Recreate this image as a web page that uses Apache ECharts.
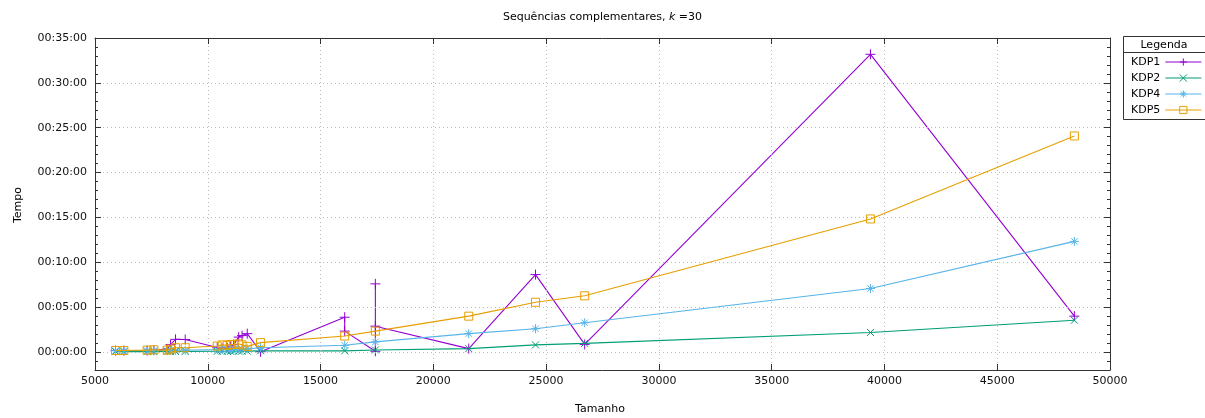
<!DOCTYPE html>
<html><head><meta charset="utf-8">
<script src="https://cdn.jsdelivr.net/npm/echarts@6/dist/echarts.min.js"></script>
<style>html,body{margin:0;padding:0;background:#fff}#c{width:1205px;height:418px}</style>
</head><body><div id="c"></div>
<script>
// Tamanho (x) shared by KDP2, KDP4, KDP5
const tamanho = [5910, 6280, 7310, 7610, 8200, 8350, 8570, 9000, 10420, 10640, 10860, 11010, 11150, 11370, 11520, 11750, 12340, 16070, 17430, 21570, 24530, 26710, 39380, 48420];
// Tempo in seconds
const kdp2 = [3, 3, 3, 3, 4, 4, 4, 4, 5, 5, 5, 5, 6, 6, 6, 6, 8, 8, 14, 23, 48, 58, 131, 213];
const kdp4 = [9, 9, 10, 10, 10, 11, 12, 12, 16, 17, 18, 18, 19, 20, 20, 21, 29, 45, 68, 123, 156, 196, 425, 740];
const kdp5 = [10, 10, 13, 15, 13, 20, 29, 29, 40, 48, 45, 51, 51, 55, 48, 38, 63, 107, 140, 240, 333, 376, 890, 1445];
// KDP1 has repeated sizes
const kdp1Tamanho = [5910, 6280, 7310, 7610, 8200, 8350, 8570, 9000, 10420, 10640, 10860, 11010, 11150, 11370, 11520, 11750, 12340, 16070, 16070, 17430, 17430, 17430, 21570, 24530, 26710, 39380, 48420];
const kdp1 = [10, 10, 10, 12, 20, 50, 85, 84, 30, 25, 30, 40, 50, 100, 110, 123, 2, 233, 140, 5, 456, 173, 23, 518, 51, 1991, 240];

const seriesNames = ['KDP1', 'KDP2', 'KDP4', 'KDP5'];
const yMajorTicks = [0, 300, 600, 900, 1200, 1500, 1800, 2100];

const FONT = 'DejaVu Sans';
const colors = ['#9400d3', '#009e73', '#56b4e9', '#e69f00'];
const pad = n => (n < 10 ? '0' : '') + n;
function fmtTime(v) {
  const s = Math.round(v);
  const sign = s < 0 ? '-' : '';
  const a = Math.abs(s);
  return sign + pad(Math.floor(a / 3600)) + ':' + pad(Math.floor((a % 3600) / 60)) + ':' + pad(a % 60);
}
const zip = (xs, ys) => xs.map((x, i) => [x, ys[i]]);

const axisLineStyle = { color: '#333', width: 1 };
const gridStyle = { color: '#b8b8b8', width: 1, type: [1, 3] };

const symbols = [
  'path://M0,5L10,5M5,0L5,10',
  'path://M0,0L10,10M10,0L0,10',
  'path://M0,5L10,5M5,0L5,10M1.5,1.5L8.5,8.5M8.5,1.5L1.5,8.5',
  'rect'
];
const symbolSizes = [10, 7, 9, 8];
const dataSets = [zip(kdp1Tamanho, kdp1), zip(tamanho, kdp2), zip(tamanho, kdp4), zip(tamanho, kdp5)];

const yBase = { type: 'value', min: -120, max: 2100, gridIndex: 0 };
const option = {
  animation: false,
  backgroundColor: '#fff',
  title: {
    text: '{a|Sequências complementares, }{i|k}{a| =30}',
    left: 'center', top: 7,
    textStyle: { fontWeight: 'normal', rich: {
      a: { fontSize: 11, fontFamily: FONT, color: '#000', fontWeight: 'normal' },
      i: { fontSize: 11, fontFamily: FONT, color: '#000', fontStyle: 'italic', fontWeight: 'normal' }
    } }
  },
  grid: { left: 95, right: 95, top: 38, bottom: 48, containLabel: false },
  xAxis: [
    { type: 'value', position: 'bottom', min: 5000, max: 50000, interval: 5000, z: 5,
      axisLine: { show: true, onZero: false, lineStyle: axisLineStyle },
      axisTick: { show: true, inside: true, length: 6, lineStyle: axisLineStyle },
      axisLabel: { show: true, margin: 6, fontSize: 11, fontFamily: FONT, color: '#111', showMinLabel: true, showMaxLabel: true, formatter: v => String(v) },
      splitLine: { show: true, lineStyle: gridStyle } },
    { type: 'value', position: 'top', min: 5000, max: 50000, interval: 5000, z: 5,
      axisLine: { show: true, onZero: false, lineStyle: axisLineStyle },
      axisTick: { show: true, inside: true, length: 6, lineStyle: axisLineStyle },
      axisLabel: { show: false }, splitLine: { show: false } }
  ],
  yAxis: [
    Object.assign({}, yBase, { position: 'left', interval: 60, z: 5,
      axisLine: { show: true, onZero: false, lineStyle: axisLineStyle },
      axisTick: { show: true, inside: true, length: 3, lineStyle: axisLineStyle },
      axisLabel: { show: false }, splitLine: { show: false } }),
    Object.assign({}, yBase, { position: 'left', z: 5,
      axisLine: { show: false, onZero: false },
      axisTick: { show: true, inside: true, length: 6, lineStyle: axisLineStyle, customValues: yMajorTicks },
      axisLabel: { show: true, margin: 8, fontSize: 11, fontFamily: FONT, color: '#111', customValues: yMajorTicks, formatter: fmtTime },
      splitLine: { show: false } }),
    Object.assign({}, yBase, { position: 'right', interval: 60, z: 5,
      axisLine: { show: true, onZero: false, lineStyle: axisLineStyle },
      axisTick: { show: true, inside: true, length: 3, lineStyle: axisLineStyle },
      axisLabel: { show: false }, splitLine: { show: false } }),
    Object.assign({}, yBase, { position: 'right', z: 5,
      axisLine: { show: false, onZero: false },
      axisTick: { show: true, inside: true, length: 6, lineStyle: axisLineStyle, customValues: yMajorTicks },
      axisLabel: { show: false }, splitLine: { show: false } })
  ],
  legend: {
    orient: 'vertical', left: 1131, top: 56.5, align: 'right', padding: 0,
    itemWidth: 36, itemHeight: 9, itemGap: 5, z: 10,
    textStyle: { fontSize: 11, fontFamily: FONT, color: '#000' },
    lineStyle: { width: 1 },
    itemStyle: { borderWidth: 1 },
    data: seriesNames
  },
  graphic: [
    { type: 'rect', z: 1, shape: { x: 1123.5, y: 36.5, width: 90, height: 83 }, style: { fill: '#fff', stroke: '#333', lineWidth: 1 } },
    { type: 'line', z: 2, shape: { x1: 1123, y1: 52.5, x2: 1205, y2: 52.5 }, style: { stroke: '#333', lineWidth: 1 } },
    { type: 'text', z: 3, x: 1164, y: 45, style: { text: 'Legenda', font: '11px "' + FONT + '"', fill: '#000', textAlign: 'center', textVerticalAlign: 'middle' } },
    { type: 'text', x: 18, y: 205, rotation: Math.PI / 2, style: { text: 'Tempo', font: '11px "' + FONT + '"', fill: '#000', textAlign: 'center', textVerticalAlign: 'middle' } },
    { type: 'text', x: 600, y: 409, style: { text: 'Tamanho', font: '11px "' + FONT + '"', fill: '#000', textAlign: 'center', textVerticalAlign: 'middle' } }
  ],
  series: [{
    name: 'grid', type: 'line', xAxisIndex: 0, yAxisIndex: 0, data: [], z: 1, silent: true,
    markLine: { silent: true, symbol: 'none', animation: false, label: { show: false },
      lineStyle: gridStyle, emphasis: { disabled: true },
      data: yMajorTicks.filter(v => v < 2100).map(v => ({ yAxis: v })) }
  }].concat(seriesNames.map((name, i) => ({
    name, type: 'line', xAxisIndex: 0, yAxisIndex: 0,
    data: dataSets[i],
    symbol: symbols[i], symbolSize: symbolSizes[i], showAllSymbol: true,
    lineStyle: { color: colors[i], width: 1.1 },
    itemStyle: { color: i === 3 ? 'rgba(255,255,255,0)' : colors[i], borderColor: colors[i], borderWidth: 1 },
    emphasis: { disabled: true }, z: 2 + i
  })))
};
const chart = echarts.init(document.getElementById('c'), null, { renderer: 'canvas' });
chart.setOption(option);
</script>
</body></html>
